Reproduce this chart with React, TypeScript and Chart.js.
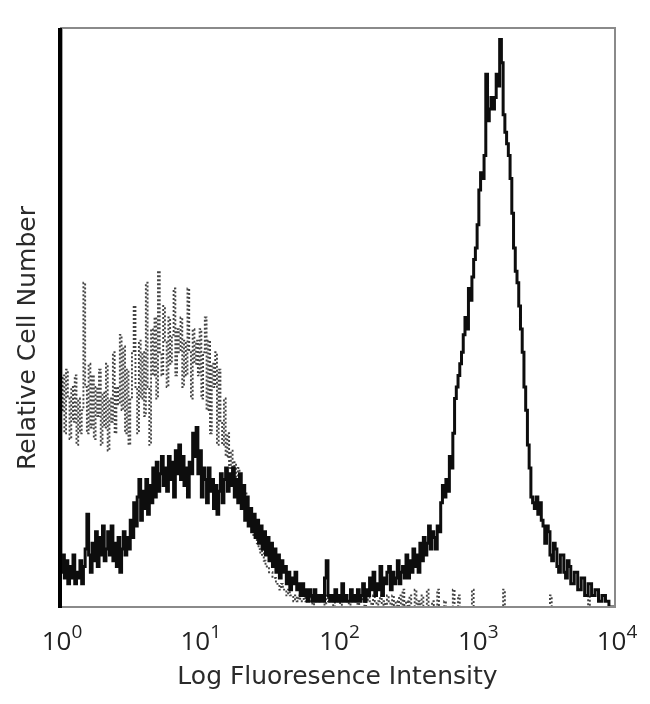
import React, { useEffect, useRef } from "react";
import { Chart, registerables } from "chart.js";

Chart.register(...registerables);

// 320 log-spaced channels over 4 decades (80 per decade), plus channel 0
const CHANNELS_PER_DECADE = 80;
const tickValues = [1, 10, 100, 1000, 10000];
const tickBase = ["10", "10", "10", "10", "10"];
const tickExponents = ["0", "1", "2", "3", "4"];
const xTitle = "Log Fluoresence Intensity";
const yTitle = "Relative Cell Number";

const stained = [
  100, 6, 9, 5, 8, 4, 7, 5, 9, 4,
  6, 5, 8, 4, 7, 10, 16, 9, 6, 11,
  8, 13, 7, 12, 9, 14, 8, 10, 13, 9,
  14, 8, 11, 7, 12, 6, 10, 13, 9, 12,
  10, 15, 12, 18, 14, 19, 22, 15, 20, 17,
  22, 16, 21, 18, 24, 19, 25, 20, 23, 26,
  21, 24, 20, 26, 22, 25, 19, 27, 23, 28,
  22, 26, 21, 24, 19, 25, 23, 30, 26, 31,
  23, 27, 19, 24, 22, 18, 24, 20, 22, 17,
  21, 16, 20, 23, 18, 22, 24, 20, 23, 21,
  24, 19, 22, 18, 23, 17, 21, 15, 19, 14,
  17, 13, 16, 12, 15, 11, 14, 10, 13, 9,
  12, 8, 11, 7, 10, 6, 9, 5, 8, 6,
  7, 4, 6, 3, 5, 4, 6, 3, 4, 2,
  4, 2, 3, 1, 3, 2, 1, 3, 1, 2,
  1, 2, 1, 5, 8, 2, 1, 2, 1, 3,
  1, 2, 1, 4, 1, 2, 1, 1, 3, 1,
  2, 1, 3, 1, 2, 4, 1, 3, 2, 5,
  3, 6, 2, 4, 3, 7, 2, 5, 4, 6,
  7, 3, 6, 4, 5, 8, 4, 6, 7, 5,
  9, 5, 8, 6, 10, 7, 9, 6, 11, 8,
  12, 9, 11, 14, 10, 13, 12, 10, 14, 13,
  18, 21, 19, 22, 20, 26, 24, 30, 36, 38,
  40, 42, 44, 47, 50, 48, 55, 53, 57, 60,
  62, 66, 72, 75, 74, 78, 92, 84, 86, 88,
  86, 88, 92, 90, 98, 94, 85, 82, 80, 78,
  74, 68, 62, 58, 56, 52, 48, 44, 38, 34,
  28, 24, 19, 18, 17, 19, 16, 18, 15, 14,
  11, 14, 13, 9, 8, 11, 10, 7, 6, 9,
  9, 6, 5, 8, 7, 4, 4, 6, 6, 3,
  3, 5, 5, 2, 2, 4, 4, 2, 2, 3,
  3, 1, 1, 2, 2, 1, 1, 0, 0, 0,
  0,
];

const isotype = [
  100, 34, 40, 30, 41, 36, 29, 38, 32, 40,
  28, 36, 30, 34, 56, 38, 30, 42, 31, 40,
  29, 38, 33, 41, 28, 37, 31, 42, 27, 36,
  32, 44, 30, 38, 35, 47, 34, 45, 30, 41,
  28, 36, 44, 52, 38, 30, 46, 36, 44, 33,
  56, 38, 28, 48, 40, 50, 36, 58, 44, 40,
  52, 46, 38, 50, 42, 47, 55, 40, 48, 44,
  50, 38, 46, 40, 55, 44, 36, 48, 42, 46,
  40, 48, 36, 44, 50, 34, 46, 30, 42, 38,
  44, 28, 41, 32, 28, 36, 26, 30, 24, 27,
  22, 25, 20, 24, 19, 21, 18, 20, 16, 17,
  15, 14, 12, 13, 11, 10, 9, 10, 8, 7,
  7, 6, 6, 5, 5, 4, 4, 3, 4, 3,
  3, 2, 3, 2, 2, 1, 2, 1, 2, 1,
  1, 2, 1, 1, 2, 1, 0, 1, 2, 1,
  1, 2, 1, 0, 2, 1, 1, 2, 0, 1,
  2, 1, 0, 1, 2, 1, 1, 0, 2, 1,
  1, 2, 0, 1, 1, 2, 0, 1, 2, 1,
  0, 2, 1, 0, 1, 2, 0, 1, 0, 2,
  1, 0, 2, 0, 1, 0, 2, 0, 3, 0,
  1, 0, 2, 0, 0, 3, 0, 1, 0, 2,
  0, 0, 3, 0, 0, 1, 0, 0, 3, 0,
  0, 0, 1, 0, 0, 0, 0, 3, 0, 0,
  2, 0, 0, 0, 0, 0, 0, 0, 3, 0,
  0, 0, 0, 0, 0, 0, 0, 0, 0, 0,
  0, 0, 0, 0, 0, 0, 3, 0, 0, 0,
  0, 0, 0, 0, 0, 0, 0, 0, 0, 0,
  0, 0, 0, 0, 0, 0, 0, 0, 0, 0,
  0, 0, 0, 2, 0, 0, 0, 0, 0, 0,
  0, 0, 0, 0, 0, 0, 0, 0, 0, 0,
  0, 0, 0, 0, 0, 2, 0, 0, 0, 0,
  0, 0, 0, 0, 0, 0, 0, 0, 0, 0,
  0,
];

const channel = (i: number) => Math.pow(10, i / CHANNELS_PER_DECADE);

const TICK_FONT = "'Open Sans', 'DejaVu Sans', sans-serif";
const TITLE_FONT = "'DejaVu Sans', sans-serif";

const framePlugin = {
  id: "frame",
  afterDatasetsDraw(chart: any) {
    const { ctx, chartArea } = chart;
    const { left, right, top, bottom } = chartArea;
    ctx.save();
    ctx.strokeStyle = "#8a8a8a";
    ctx.lineWidth = 2;
    ctx.beginPath();
    ctx.moveTo(left, top);
    ctx.lineTo(right, top);
    ctx.lineTo(right, bottom);
    ctx.lineTo(left, bottom);
    ctx.stroke();
    ctx.strokeStyle = "#000";
    ctx.lineWidth = 4;
    ctx.beginPath();
    ctx.moveTo(left, top);
    ctx.lineTo(left, bottom + 1);
    ctx.stroke();
    ctx.restore();
  },
  afterDraw(chart: any) {
    const { ctx } = chart;
    const xs = chart.scales.x;
    ctx.save();
    ctx.fillStyle = "#222";
    ctx.textBaseline = "alphabetic";
    tickValues.forEach((v, k) => {
      const px = xs.getPixelForValue(v);
      ctx.font = `26px ${TICK_FONT}`;
      const w1 = ctx.measureText(tickBase[k]).width;
      ctx.font = `19px ${TICK_FONT}`;
      const w2 = ctx.measureText(tickExponents[k]).width;
      const start = px + 2 - (w1 + w2) / 2;
      ctx.font = `26px ${TICK_FONT}`;
      ctx.fillText(tickBase[k], start, 650);
      ctx.font = `19px ${TICK_FONT}`;
      ctx.fillText(tickExponents[k], start + w1, 638);
    });
    // y-axis title, rotated
    ctx.translate(28, 338);
    ctx.rotate(-Math.PI / 2);
    ctx.fillStyle = "#2a2a2a";
    ctx.font = `25px ${TITLE_FONT}`;
    ctx.textAlign = "center";
    ctx.textBaseline = "middle";
    ctx.fillText(yTitle, 0, 0);
    ctx.restore();
  },
};

export default function App() {
  const ref = useRef<HTMLCanvasElement | null>(null);
  useEffect(() => {
    if (!ref.current) return;
    const chart = new Chart(ref.current, {
      type: "line",
      data: {
        datasets: [
          {
            label: "Stained",
            data: stained.map((v, i) => ({ x: channel(i), y: v })),
            borderColor: "#0d0d0d",
            borderWidth: 3,
            stepped: "middle",
            pointRadius: 0,
            fill: false,
          },
          {
            label: "Isotype control",
            data: isotype.map((v, i) => ({ x: channel(i), y: v })),
            borderColor: "#454545",
            borderWidth: 1.9,
            borderDash: [2, 2],
            stepped: "middle",
            pointRadius: 0,
            fill: false,
          },
        ],
      },
      options: {
        responsive: false,
        animation: false,
        layout: { padding: { left: 0, right: 35, top: 28, bottom: 0 } },
        plugins: { legend: { display: false }, tooltip: { enabled: false } },
        scales: {
          x: {
            type: "logarithmic",
            min: 1,
            max: 10000,
            grid: { display: false, drawTicks: false },
            border: { display: false },
            ticks: { display: false },
            title: {
              display: true,
              text: xTitle,
              color: "#2a2a2a",
              font: { family: TITLE_FONT, size: 25 },
              padding: { top: 0, bottom: 12 },
            },
            afterFit: (s: any) => {
              s.height = 97;
            },
          },
          y: {
            min: 0,
            max: 100,
            grid: { display: false, drawTicks: false },
            border: { display: false },
            ticks: { display: false },
            title: { display: false, text: yTitle },
            afterFit: (s: any) => {
              s.width = 60;
            },
          },
        },
      },
      plugins: [framePlugin],
    });
    return () => chart.destroy();
  }, []);
  return (
    <div style={{ position: "fixed", left: 0, top: 0, width: 650, height: 704, background: "#fff" }}>
      <canvas ref={ref} width={650} height={704} />
    </div>
  );
}
